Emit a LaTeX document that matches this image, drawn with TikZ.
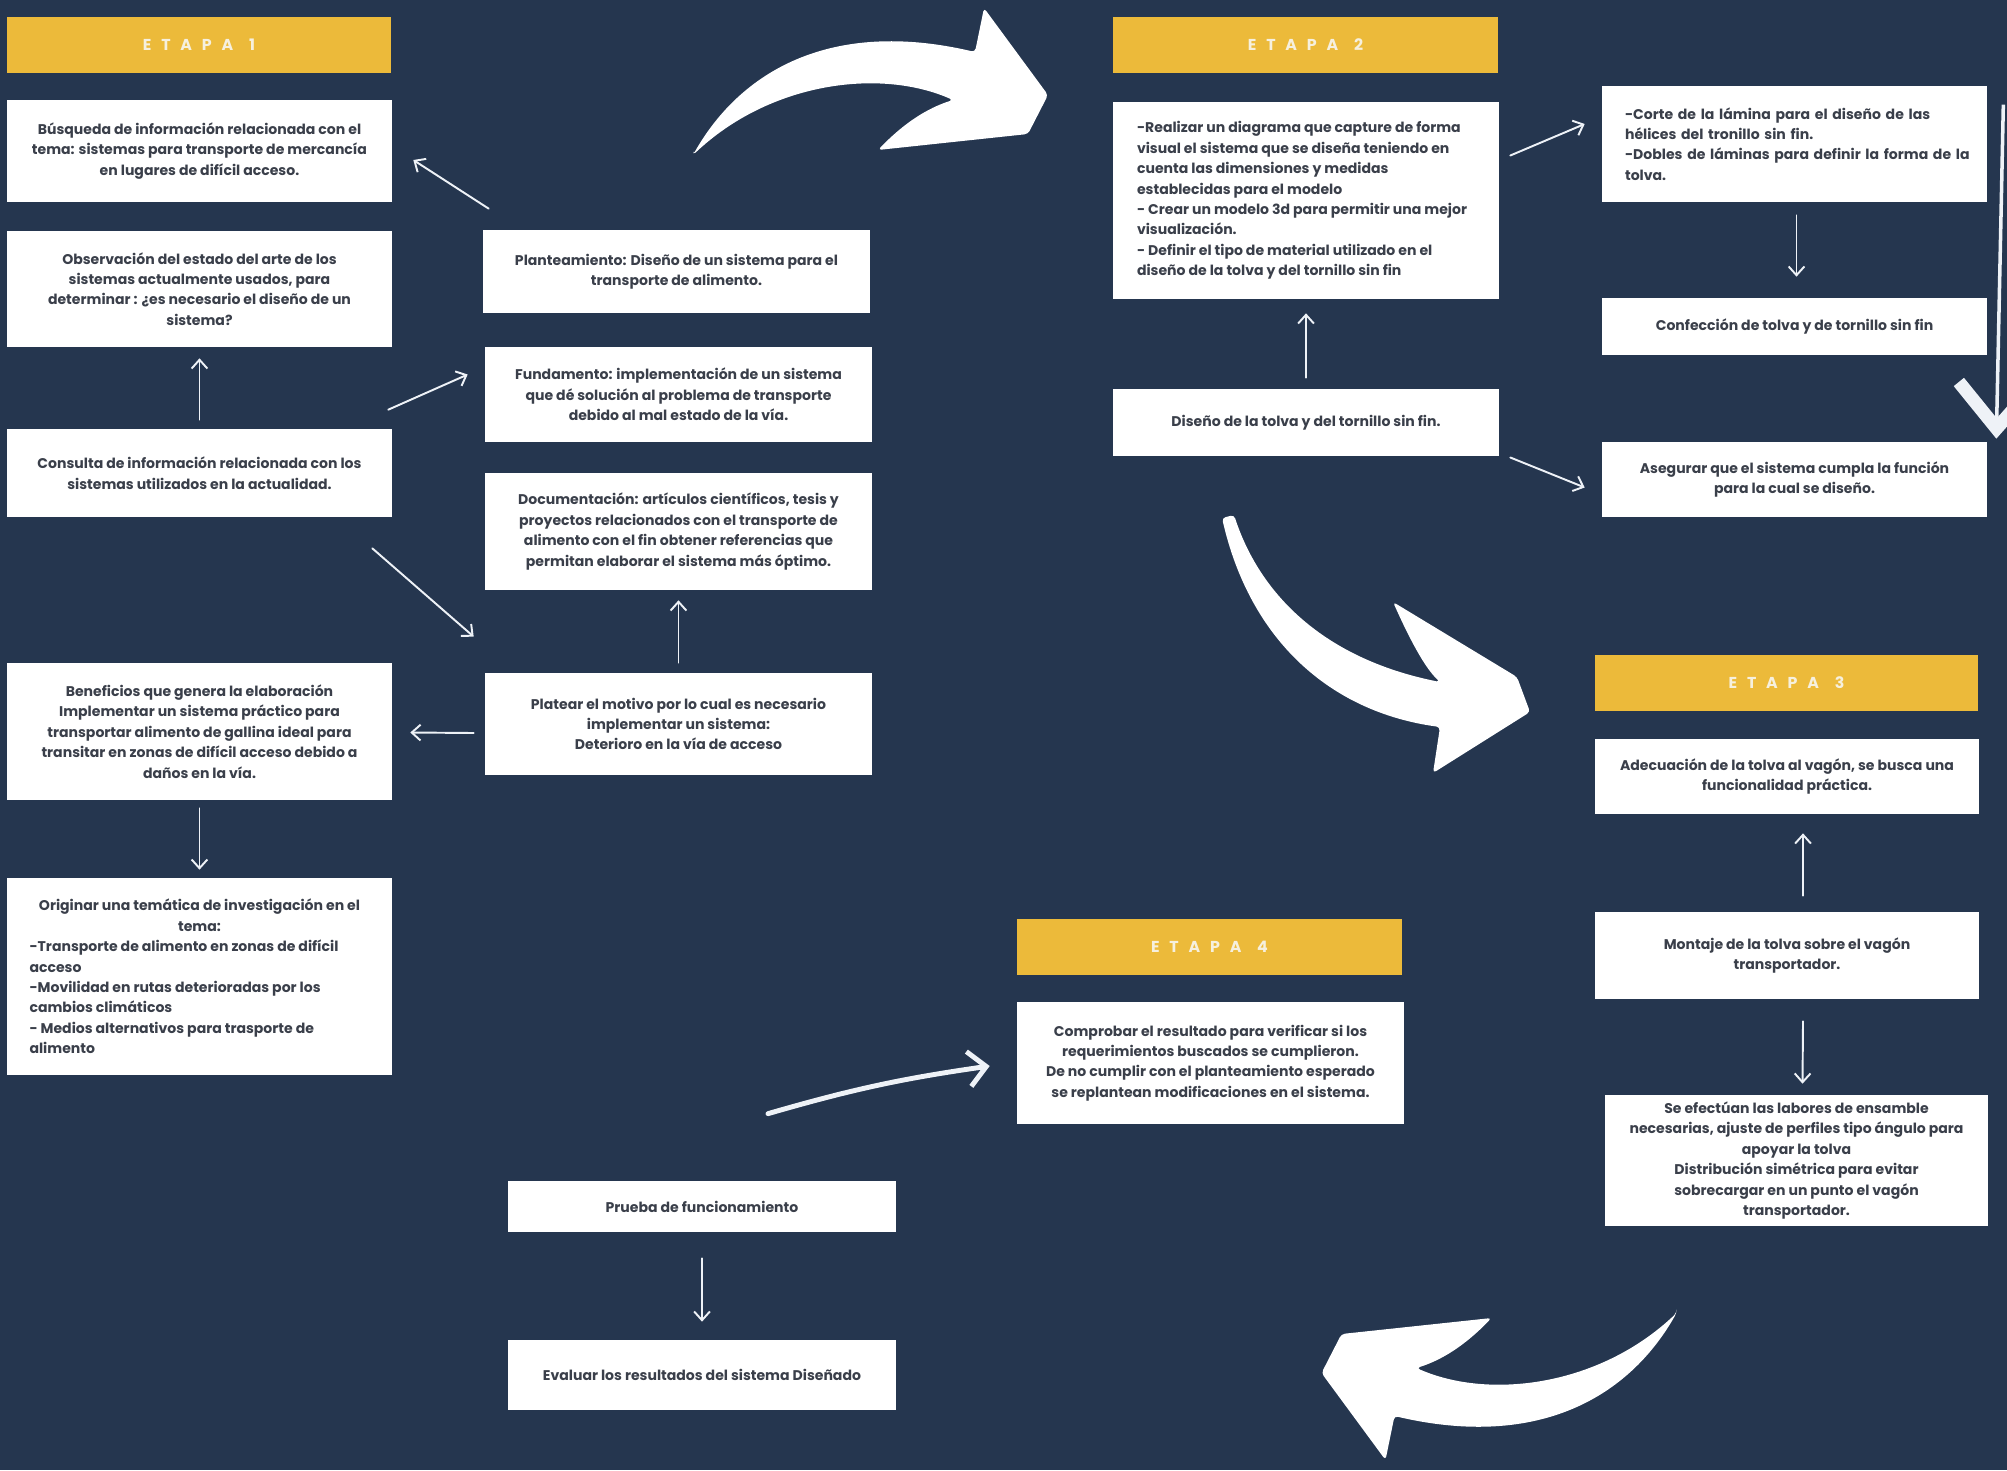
\documentclass[tikz,border=0pt]{standalone}
\usepackage{fontspec}
\setmainfont{Poppins}
\usetikzlibrary{arrows.meta, calc}

\definecolor{fondo}{HTML}{25364F}
\definecolor{dorado}{HTML}{ECBA3A}
\definecolor{texto}{HTML}{3A3F4A}
\definecolor{tiza}{HTML}{EEF2F7}
\definecolor{crema}{HTML}{F6F0DE}

\newcommand{\linea}[1]{\makebox[6.76cm][l]{#1}}

\tikzset{
  flechagrande/.pic={
    \fill[swoosh] (693,155) .. controls (740,72) and (830,18) .. (975,52) -- (984,8) -- (1048,95) -- (1028,134)
      -- (878,150) .. controls (905,122) and (928,108) .. (953,100) .. controls (880,68) and (770,82) .. cycle;
  }
}

\begin{document}
\begin{tikzpicture}[
    x=0.02cm, y=-0.02cm,
    every node/.style={font=\fontsize{8}{11.6}\selectfont\bfseries, text=texto},
    caja/.style={rectangle, fill=white, inner sep=0pt, align=center},
    etapa/.style={rectangle, fill=dorado, inner sep=0pt, minimum width=7.7cm, minimum height=1.12cm,
      text=crema, font=\fontsize{9}{10}\selectfont\bfseries\addfontfeature{LetterSpace=62}},
    flecha/.style={-{Straight Barb[length=5pt, width=9pt]}, line width=1.1pt, tiza, line cap=round},
    gruesa/.style={-{Straight Barb[length=10pt, width=20pt]}, line width=2.8pt, tiza, line cap=round},
    larga/.style={-{Straight Barb[length=26pt, width=44pt, line width=7.5pt]}, line width=2pt, tiza},
    swoosh/.style={fill=white, rounded corners=2pt}]

  \fill[fondo] (0,0) rectangle (2007,1470);
  \useasboundingbox (0,0) rectangle (2007,1470);

  % etapa 1
  \node[etapa] (H1) at (199,45) {ETAPA \,1};
  \node[caja, minimum width=7.7cm, minimum height=2.04cm] (B1) at (199.5,151)
    {Búsqueda de información relacionada con el\\ tema: sistemas para transporte de mercancía\\ en lugares de difícil acceso.};
  \node[caja, minimum width=7.7cm, minimum height=2.32cm] (B2) at (199.5,289)
    {Observación del estado del arte de los\\ sistemas actualmente usados, para\\ determinar : ¿es necesario el diseño de un\\ sistema?};
  \node[caja, minimum width=7.7cm, minimum height=1.76cm] (B3) at (199.5,473)
    {Consulta de información relacionada con los\\ sistemas utilizados en la actualidad.};
  \node[caja, minimum width=7.7cm, minimum height=2.74cm] (B4) at (199.5,731.5)
    {Beneficios que genera la elaboración\\ Implementar un sistema práctico para\\ transportar alimento de gallina ideal para\\ transitar en zonas de difícil acceso debido a\\ daños en la vía.};
  \node[caja, minimum width=7.7cm, minimum height=3.94cm] (B5) at (199.5,976.5)
    {Originar una temática de investigación en el\\ tema:\\
     \makebox[6.8cm][l]{-Transporte de alimento en zonas de difícil}\\
     \makebox[6.8cm][l]{acceso}\\
     \makebox[6.8cm][l]{-Movilidad en rutas deterioradas por los}\\
     \makebox[6.8cm][l]{cambios climáticos}\\
     \makebox[6.8cm][l]{- Medios alternativos para trasporte de}\\
     \makebox[6.8cm][l]{alimento}};

  \node[caja, minimum width=7.74cm, minimum height=1.66cm] (P1) at (676.5,271.5)
    {Planteamiento: Diseño de un sistema para el\\ transporte de alimento.};
  \node[caja, minimum width=7.74cm, minimum height=1.9cm] (P2) at (678.5,394.5)
    {Fundamento: implementación de un sistema\\ que dé solución al problema de transporte\\ debido al mal estado de la vía.};
  \node[caja, minimum width=7.74cm, minimum height=2.34cm] (P3) at (678.5,531.5)
    {Documentación: artículos científicos, tesis y\\ proyectos relacionados con el transporte de\\ alimento con el fin obtener referencias que\\ permitan elaborar el sistema más óptimo.};
  \node[caja, minimum width=7.74cm, minimum height=2.04cm] (P4) at (678.5,724)
    {Platear el motivo por lo cual es necesario\\ implementar un sistema:\\ Deterioro en la vía de acceso};

  \draw[flecha] ($(B3.north)+(0,-9)$) -- ($(B2.south)+(0,11)$);
  \draw[flecha] ($(B4.south)+(0,8)$) -- ($(B5.north)+(0,-8)$);
  \draw[flecha] ($(P1.north west)+(6,-21)$) -- ($(B1.east)+(21,9)$);
  \draw[flecha] ($(B3.north east)+(-4,-19)$) -- ($(P2.west)+(-17,-20)$);
  \draw[flecha] ($(B3.south east)+(-20,31)$) -- ($(P4.north west)+(-11,-36)$);
  \draw[flecha] ($(P4.west)+(-11,9)$) -- ($(B4.east)+(18,1)$);
  \draw[flecha] ($(P4.north)+(0,-10)$) -- ($(P3.south)+(0,10)$);

  % etapa 2
  \node[etapa] (H2) at (1305.5,45) {ETAPA \,2};
  \node[caja, minimum width=7.72cm, minimum height=3.94cm] (G1) at (1306,200.5)
    {\linea{-Realizar un diagrama que capture de forma}\\ \linea{visual el sistema que se diseña teniendo en}\\
     \linea{cuenta las dimensiones y medidas}\\ \linea{establecidas para el modelo}\\
     \linea{- Crear un modelo 3d para permitir una mejor}\\ \linea{visualización.}\\
     \linea{- Definir el tipo de material utilizado en el}\\ \linea{diseño de la tolva y del tornillo sin fin}};
  \node[caja, minimum width=7.72cm, minimum height=1.34cm] (G2) at (1306,422.5)
    {Diseño de la tolva y del tornillo sin fin.};

  \node[caja, minimum width=7.7cm, minimum height=2.32cm, align=left, text width=6.78cm] (C1) at (1794.5,144)
    {\makebox[6.78cm][s]{-Corte de la lámina para el diseño de las}\\ hélices del tronillo sin fin.\\ \makebox[6.78cm][s]{-Dobles de láminas para definir la forma de la}\\ tolva.};
  \node[caja, minimum width=7.7cm, minimum height=1.14cm] (C2) at (1794.5,326.5)
    {Confección de tolva y de tornillo sin fin};
  \node[caja, minimum width=7.7cm, minimum height=1.5cm] (C3) at (1794.5,479.5)
    {Asegurar que el sistema cumpla la función\\ para la cual se diseño.};

  \draw[flecha] ($(G2.north)+(0,-11)$) -- ($(G1.south)+(0,14)$);
  \draw[flecha] ($(G1.east)+(11,-45)$) -- ($(C1.west)+(-17,-20)$);
  \draw[flecha] ($(G2.east)+(11,35)$) -- ($(C3.west)+(-17,8)$);
  \draw[flecha] ($(C1.south)+(2,13)$) -- ($(C2.north)+(2,-21)$);
  \draw[larga] ($(C1.north east)+(16,19)$) -- ($(C3.north east)+(9,-3)$);

  % etapa 3
  \node[etapa, minimum width=7.66cm] (H3) at (1786.5,683) {ETAPA \,3};
  \node[caja, minimum width=7.68cm, minimum height=1.5cm] (S1) at (1787,776.5)
    {Adecuación de la tolva al vagón, se busca una\\ funcionalidad práctica.};
  \node[caja, minimum width=7.68cm, minimum height=1.74cm] (S2) at (1787,955.5)
    {Montaje de la tolva sobre el vagón\\ transportador.};
  \node[caja, minimum width=7.66cm, minimum height=2.62cm] (S3) at (1796.5,1160.5)
    {Se efectúan las labores de ensamble\\ necesarias, ajuste de perfiles tipo ángulo para\\ apoyar la tolva\\ Distribución simétrica para evitar\\ sobrecargar en un punto el vagón\\ transportador.};

  \draw[flecha] ($(S2.north)+(16,-16)$) -- ($(S1.south)+(16,19)$);
  \draw[flecha] ($(S2.south)+(16,22)$) -- ($(S3.north)+(6,-11)$);

  % etapa 4
  \node[etapa] (H4) at (1209.5,947) {ETAPA \,4};
  \node[caja, minimum width=7.74cm, minimum height=2.44cm] (F1) at (1210.5,1063)
    {Comprobar el resultado para verificar si los\\ requerimientos buscados se cumplieron.\\ De no cumplir con el planteamiento esperado\\ se replantean modificaciones en el sistema.};
  \node[caja, minimum width=7.76cm, minimum height=1.02cm] (T1) at (702,1206.5)
    {Prueba de funcionamiento};
  \node[caja, minimum width=7.76cm, minimum height=1.4cm] (T2) at (702,1375)
    {Evaluar los resultados del sistema Diseñado};

  \draw[flecha] ($(T1.south)+(0,26)$) -- ($(T2.north)+(0,-18)$);
  \draw[gruesa] ($(T1.north)+(66,-67)$) to[bend left=4] ($(F1.west)+(-27,3)$);

  % flechas grandes entre etapas
  \pic at (0,0) {flechagrande};
  \fill[swoosh] (1222,518) .. controls (1250,640) and (1330,712) .. (1440,727) -- (1433,773) -- (1530,712)
    -- (1517,677) -- (1393,602) .. controls (1410,640) and (1425,668) .. (1440,682)
    .. controls (1330,660) and (1262,600) .. (1234,515) -- cycle;
  \pic[rotate=180] at (2369.5,1468) {flechagrande};
\end{tikzpicture}
\end{document}
